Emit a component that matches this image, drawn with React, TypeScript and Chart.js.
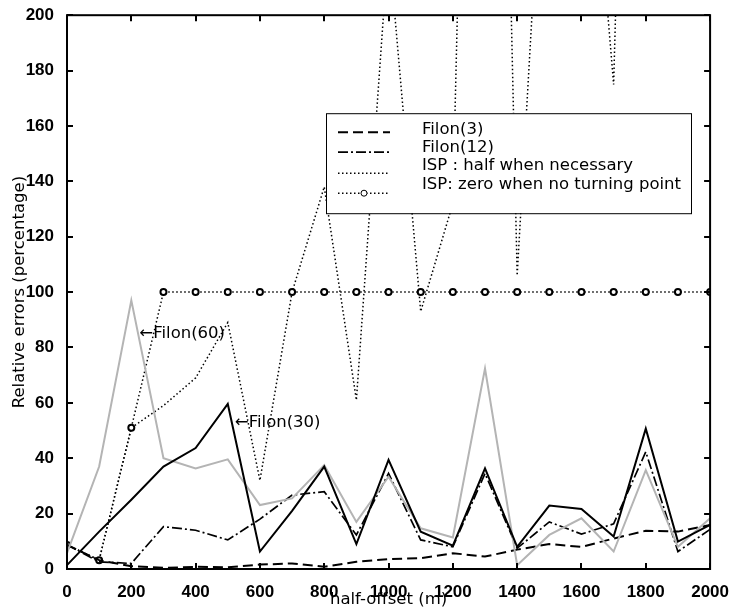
import React, { useEffect, useRef } from 'react';
import { Chart, registerables } from 'chart.js';

Chart.register(...registerables);

// half-offset (m)
const offsets = [0, 100, 200, 300, 400, 500, 600, 700, 800, 900, 1000, 1100, 1200, 1300, 1400, 1500, 1600, 1700, 1800, 1900, 2000];

// Relative errors (percentage)
const filon3 = [8.7, 3.2, 1.0, 0.4, 0.8, 0.6, 1.6, 2.0, 0.8, 2.6, 3.6, 3.9, 5.7, 4.5, 7.0, 9.0, 8.0, 11.0, 13.8, 13.5, 15.9];
const filon12 = [8.7, 2.6, 2.0, 15.3, 14.0, 10.5, 18.0, 26.7, 27.9, 12.3, 34.5, 10.5, 8.0, 34.5, 7.5, 17.0, 12.6, 16.3, 42.3, 6.3, 14.3];
const ispHalf = [8.7, 3.2, 51, 59, 69, 89, 32, 100, 138, 61, 226, 93, 132, 620, 106, 310, 315, 175, 600, 450, 380];
const ispZero = [8.7, 3.2, 51, 100, 100, 100, 100, 100, 100, 100, 100, 100, 100, 100, 100, 100, 100, 100, 100, 100, 100];
const filon30 = [1.4, 13.5, 25, 37, 43.7, 59.6, 6.3, 21, 37, 9, 39.4, 13.5, 8.4, 36.3, 8, 22.9, 21.7, 11.7, 50.7, 9.9, 15.9];
const filon60 = [5.7, 37, 97, 40, 36.3, 39.6, 23.1, 25.5, 37.5, 17, 33.3, 14.7, 11.4, 72.4, 1.4, 12.3, 18.3, 6.3, 35.7, 8, 18.3];

const seriesLabels = ['Filon(3)', 'Filon(12)', 'ISP : half when necessary', 'ISP: zero when no turning point'];

// annotation labels with the data point their arrows point at
const noteTexts = ['\u2190Filon(60)', '\u2190Filon(30)'];
const noteX = [225, 522];
const noteY = [85, 52.7];

const xTitle = 'half-offset (m)';
const yTitle = 'Relative errors (percentage)';

const toPts = (vals: number[]) => vals.map((v, i) => ({ x: offsets[i], y: v }));

const TEXT_FONT = '16.5px "DejaVu Sans"';

const framePlugin = {
  id: 'framePlugin',
  afterDatasetsDraw(chart: any) {
    const { ctx, chartArea: a, scales } = chart;
    const xs = scales.x;
    const ys = scales.y;
    ctx.save();
    ctx.setLineDash([]);
    ctx.strokeStyle = '#000';
    ctx.lineWidth = 2;
    ctx.strokeRect(a.left, a.top, a.right - a.left, a.bottom - a.top);
    ctx.lineWidth = 2;
    ctx.beginPath();
    const tl = 6;
    xs.ticks.forEach((t: any) => {
      const px = Math.round(xs.getPixelForValue(t.value));
      ctx.moveTo(px, a.bottom);
      ctx.lineTo(px, a.bottom - tl);
      ctx.moveTo(px, a.top);
      ctx.lineTo(px, a.top + tl);
    });
    ys.ticks.forEach((t: any) => {
      const py = Math.round(ys.getPixelForValue(t.value));
      ctx.moveTo(a.left, py);
      ctx.lineTo(a.left + tl, py);
      ctx.moveTo(a.right, py);
      ctx.lineTo(a.right - tl, py);
    });
    ctx.stroke();

    // annotations
    ctx.font = TEXT_FONT;
    ctx.fillStyle = '#000';
    ctx.textAlign = 'left';
    ctx.textBaseline = 'middle';
    noteTexts.forEach((txt, i) => {
      ctx.fillText(txt, xs.getPixelForValue(noteX[i]), ys.getPixelForValue(noteY[i]));
    });

    // legend box
    const bx = a.left + 259;
    const by = a.top + 98;
    const bw = 365;
    const bh = 100;
    ctx.fillStyle = '#fff';
    ctx.fillRect(bx, by, bw, bh);
    ctx.strokeStyle = '#000';
    ctx.lineWidth = 1;
    ctx.strokeRect(bx + 0.5, by + 0.5, bw, bh);
    const sampleRows = [19, 39, 60, 80];
    const textRows = [17, 35, 53, 72];
    const ds = chart.data.datasets;
    for (let i = 0; i < 4; i++) {
      const d = ds[i];
      const y = by + sampleRows[i];
      ctx.save();
      ctx.strokeStyle = d.borderColor;
      ctx.lineWidth = d.borderWidth;
      ctx.setLineDash(d.borderDash || []);
      ctx.beginPath();
      ctx.moveTo(bx + 12, y);
      ctx.lineTo(bx + 64, y);
      ctx.stroke();
      if (d.pointRadius > 0) {
        ctx.setLineDash([]);
        ctx.beginPath();
        ctx.fillStyle = '#fff';
        ctx.lineWidth = 1;
        ctx.arc(bx + 38, y, 3, 0, Math.PI * 2);
        ctx.fill();
        ctx.stroke();
      }
      ctx.restore();
      ctx.fillStyle = '#000';
      ctx.font = TEXT_FONT;
      ctx.textAlign = 'left';
      ctx.textBaseline = 'middle';
      ctx.fillText(seriesLabels[i], bx + 96, by + textRows[i]);
    }
    ctx.restore();
  },
};

export default function App() {
  const ref = useRef<HTMLCanvasElement | null>(null);
  useEffect(() => {
    if (!ref.current) return;
    const chart = new Chart(ref.current, {
      type: 'line',
      data: {
        datasets: [
          {
            label: seriesLabels[0],
            data: toPts(filon3),
            borderColor: '#000',
            borderWidth: 2,
            borderDash: [10, 5],
            pointRadius: 0,
            order: 3,
          },
          {
            label: seriesLabels[1],
            data: toPts(filon12),
            borderColor: '#000',
            borderWidth: 1.7,
            borderDash: [10, 3, 2, 3],
            pointRadius: 0,
            order: 2,
          },
          {
            label: seriesLabels[2],
            data: toPts(ispHalf),
            borderColor: '#000',
            borderWidth: 1.5,
            borderDash: [1.5, 2.5],
            pointRadius: 0,
            order: 5,
          },
          {
            label: seriesLabels[3],
            data: toPts(ispZero),
            borderColor: '#000',
            borderWidth: 1.5,
            borderDash: [1.5, 2.5],
            pointRadius: 3,
            pointBorderWidth: 2,
            pointBackgroundColor: '#fff',
            pointBorderColor: '#000',
            order: 4,
          },
          {
            label: 'Filon(30)',
            data: toPts(filon30),
            borderColor: '#000',
            borderWidth: 2,
            pointRadius: 0,
            order: 0,
          },
          {
            label: 'Filon(60)',
            data: toPts(filon60),
            borderColor: '#b4b4b4',
            borderWidth: 2,
            pointRadius: 0,
            order: 1,
          },
        ],
      },
      options: {
        animation: false,
        responsive: false,
        devicePixelRatio: 1,
        layout: { padding: { top: 15, right: 19, left: 0, bottom: 0 } },
        plugins: { legend: { display: false }, tooltip: { enabled: false } },
        elements: { line: { tension: 0 } },
        scales: {
          x: {
            type: 'linear',
            min: 0,
            max: 2000,
            grid: { display: false },
            border: { display: false },
            afterFit: (s: any) => {
              s.height = 45;
            },
            ticks: {
              stepSize: 200,
              padding: 5,
              maxRotation: 0,
              color: '#000',
              font: { family: '"Liberation Sans"', size: 17, weight: 'bold' },
              callback: (v: any) => String(v),
            },
            title: {
              display: true,
              text: xTitle,
              color: '#000',
              font: { family: '"DejaVu Sans"', size: 16.5 },
              padding: { top: 0, bottom: 4 },
            },
          },
          y: {
            type: 'linear',
            min: 0,
            max: 200,
            grid: { display: false },
            border: { display: false },
            afterFit: (s: any) => {
              s.width = 67;
            },
            ticks: {
              stepSize: 20,
              padding: 5,
              color: '#000',
              font: { family: '"Liberation Sans"', size: 17, weight: 'bold' },
              callback: (v: any) => String(v),
            },
            title: {
              display: true,
              text: yTitle,
              color: '#000',
              font: { family: '"DejaVu Sans"', size: 16.5 },
              padding: { top: 10, bottom: 0 },
            },
          },
        },
      },
      plugins: [framePlugin],
    });
    return () => chart.destroy();
  }, []);
  return (
    <div style={{ position: 'absolute', left: 0, top: 0, width: 734, height: 614, background: '#fff' }}>
      <canvas ref={ref} width={734} height={614} style={{ display: 'block' }} />
    </div>
  );
}
